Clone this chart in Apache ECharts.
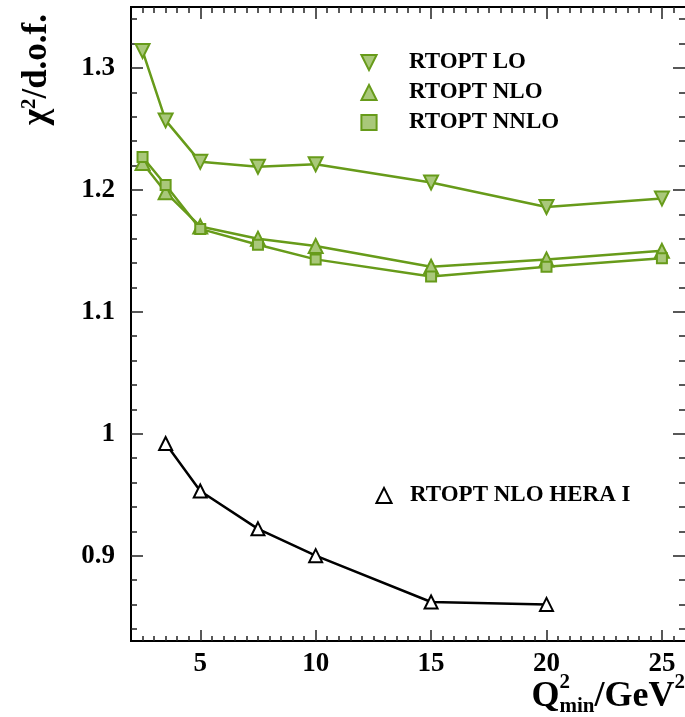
<!DOCTYPE html>
<html>
<head>
<meta charset="utf-8">
<script src="https://cdn.jsdelivr.net/npm/echarts@6/dist/echarts.min.js"></script>
<style>
html, body { margin: 0; padding: 0; background: #fff; }
#chart { width: 685px; height: 717px; }
</style>
</head>
<body>
<div id="chart"></div>
<script>
// data
var q2min = [2.5, 3.5, 5, 7.5, 10, 15, 20, 25];
var chi2LO = [1.314, 1.257, 1.223, 1.219, 1.221, 1.206, 1.186, 1.193];
var chi2NLO = [1.222, 1.198, 1.170, 1.160, 1.154, 1.137, 1.143, 1.150];
var chi2NNLO = [1.227, 1.204, 1.168, 1.155, 1.143, 1.129, 1.137, 1.144];
var q2minHera = [3.5, 5, 7.5, 10, 15, 20];
var chi2Hera = [0.992, 0.953, 0.922, 0.900, 0.862, 0.860];
var xTicks = [5, 10, 15, 20, 25];
var yTicks = [0.9, 1.0, 1.1, 1.2, 1.3];

var FONT = 'Liberation Serif';
var GREEN = '#679b1a';
var LIGHT = '#a9c87a';

function minorTicks(from, to, step, major) {
	var out = [];
	for (var v = from; v <= to + 1e-9; v += step) {
		var r = Math.round(v * 1000) / 1000;
		if (major.indexOf(r) < 0) out.push(r);
	}
	return out;
}
var xMinor = minorTicks(2.5, 25.5, 0.5, xTicks);
var yMinor = minorTicks(0.84, 1.34, 0.02, yTicks);

function axis(pos, lo, hi, ticks, len, label) {
	return {
		type: 'value',
		position: pos,
		min: lo,
		max: hi,
		axisLine: { show: pos !== 'right', onZero: false, lineStyle: { color: '#000', width: 2 } },
		axisTick: { show: true, inside: true, length: len, customValues: ticks, lineStyle: { color: '#222', width: 1.5 } },
		axisLabel: label ? {
			show: true, customValues: ticks, margin: label,
			fontFamily: FONT, fontWeight: 'bold', fontSize: 27, color: '#000'
		} : { show: false },
		splitLine: { show: false }
	};
}

function pts(xs, ys) {
	return xs.map(function (x, i) { return [x, ys[i]]; });
}

function greenSeries(name, ys, symbol, size, rotate) {
	return {
		name: name,
		type: 'line',
		data: pts(q2min, ys),
		symbol: symbol,
		symbolSize: size,
		symbolRotate: rotate || 0,
		lineStyle: { color: GREEN, width: 2.5 },
		itemStyle: { color: LIGHT, borderColor: GREEN, borderWidth: 2 }
	};
}

// x title pieces laid out right to left
var ctx = document.createElement('canvas').getContext('2d');
function textWidth(s, size) {
	ctx.font = 'bold ' + size + 'px "' + FONT + '"';
	return ctx.measureText(s).width;
}
var TS = 36, SS = 21, tRight = 685, tMid = 697;
var wSup = textWidth('2', SS), wGeV = textWidth('/GeV', TS), wMin = textWidth('min', SS), wQ = textWidth('Q', TS);
var xGeV = tRight - wSup - wGeV, xMin = xGeV - wMin, xQ = xMin - wQ;
function tx(x, y, s, size) {
	return {
		type: 'text', x: x, y: y,
		style: { text: s, fontFamily: FONT, fontWeight: 'bold', fontSize: size, fill: '#000', align: 'left', verticalAlign: 'middle' }
	};
}

var legendText = { fontFamily: FONT, fontWeight: 'bold', fontSize: 23, color: '#000', padding: 0 };

var myChart = echarts.init(document.getElementById('chart'));
var option = {
	animation: false,
	backgroundColor: '#fff',
	grid: { left: 131, right: 0, top: 7, bottom: 76, outerBoundsMode: 'none' },
	xAxis: [
		axis('bottom', 2, 26, xTicks, 11, 10),
		axis('bottom', 2, 26, xMinor, 5, 0),
		axis('top', 2, 26, xTicks, 12, 0),
		axis('top', 2, 26, xMinor, 6, 0)
	],
	yAxis: [
		axis('left', 0.83, 1.35, yTicks, 12, 16),
		axis('left', 0.83, 1.35, yMinor, 6, 0),
		axis('right', 0.83, 1.35, yTicks, 12, 0),
		axis('right', 0.83, 1.35, yMinor, 6, 0)
	],
	legend: [{
		data: ['RTOPT LO', 'RTOPT NLO', 'RTOPT NNLO'],
		orient: 'vertical',
		left: 329, top: 46,
		itemWidth: 70, itemHeight: 19, itemGap: 7,
		lineStyle: { width: 0 },
		textStyle: legendText
	}, {
		data: ['RTOPT NLO HERA I'],
		left: 358, top: 479,
		itemWidth: 42, itemHeight: 19,
		lineStyle: { width: 0 },
		textStyle: legendText
	}],
	graphic: [{
		type: 'text', x: 37, y: 14, rotation: Math.PI / 2,
		style: {
			text: '{a|χ}{b|2}{a|/d.o.f.}',
			align: 'right', verticalAlign: 'middle',
			rich: {
				a: { fontFamily: FONT, fontWeight: 'bold', fontSize: 35, lineHeight: 35, fill: '#000' },
				b: { fontFamily: FONT, fontWeight: 'bold', fontSize: 21, lineHeight: 21, verticalAlign: 'top', fill: '#000' }
			}
		}
	},
		tx(xQ, tMid, 'Q', TS),
		tx(xMin, tMid - 14, '2', SS),
		tx(xMin, tMid + 10, 'min', SS),
		tx(xGeV, tMid, '/GeV', TS),
		tx(tRight - wSup, tMid - 14, '2', SS)
	],
	series: [
		greenSeries('RTOPT LO', chi2LO, 'triangle', 14, 180),
		greenSeries('RTOPT NLO', chi2NLO, 'triangle', 14),
		greenSeries('RTOPT NNLO', chi2NNLO, 'rect', 10),
		{
			name: 'RTOPT NLO HERA I',
			type: 'line',
			data: pts(q2minHera, chi2Hera),
			symbol: 'triangle',
			symbolSize: 13,
			lineStyle: { color: '#000', width: 2.5 },
			itemStyle: { color: '#fff', borderColor: '#000', borderWidth: 2 }
		}
	]
};
myChart.setOption(option);
</script>
</body>
</html>
